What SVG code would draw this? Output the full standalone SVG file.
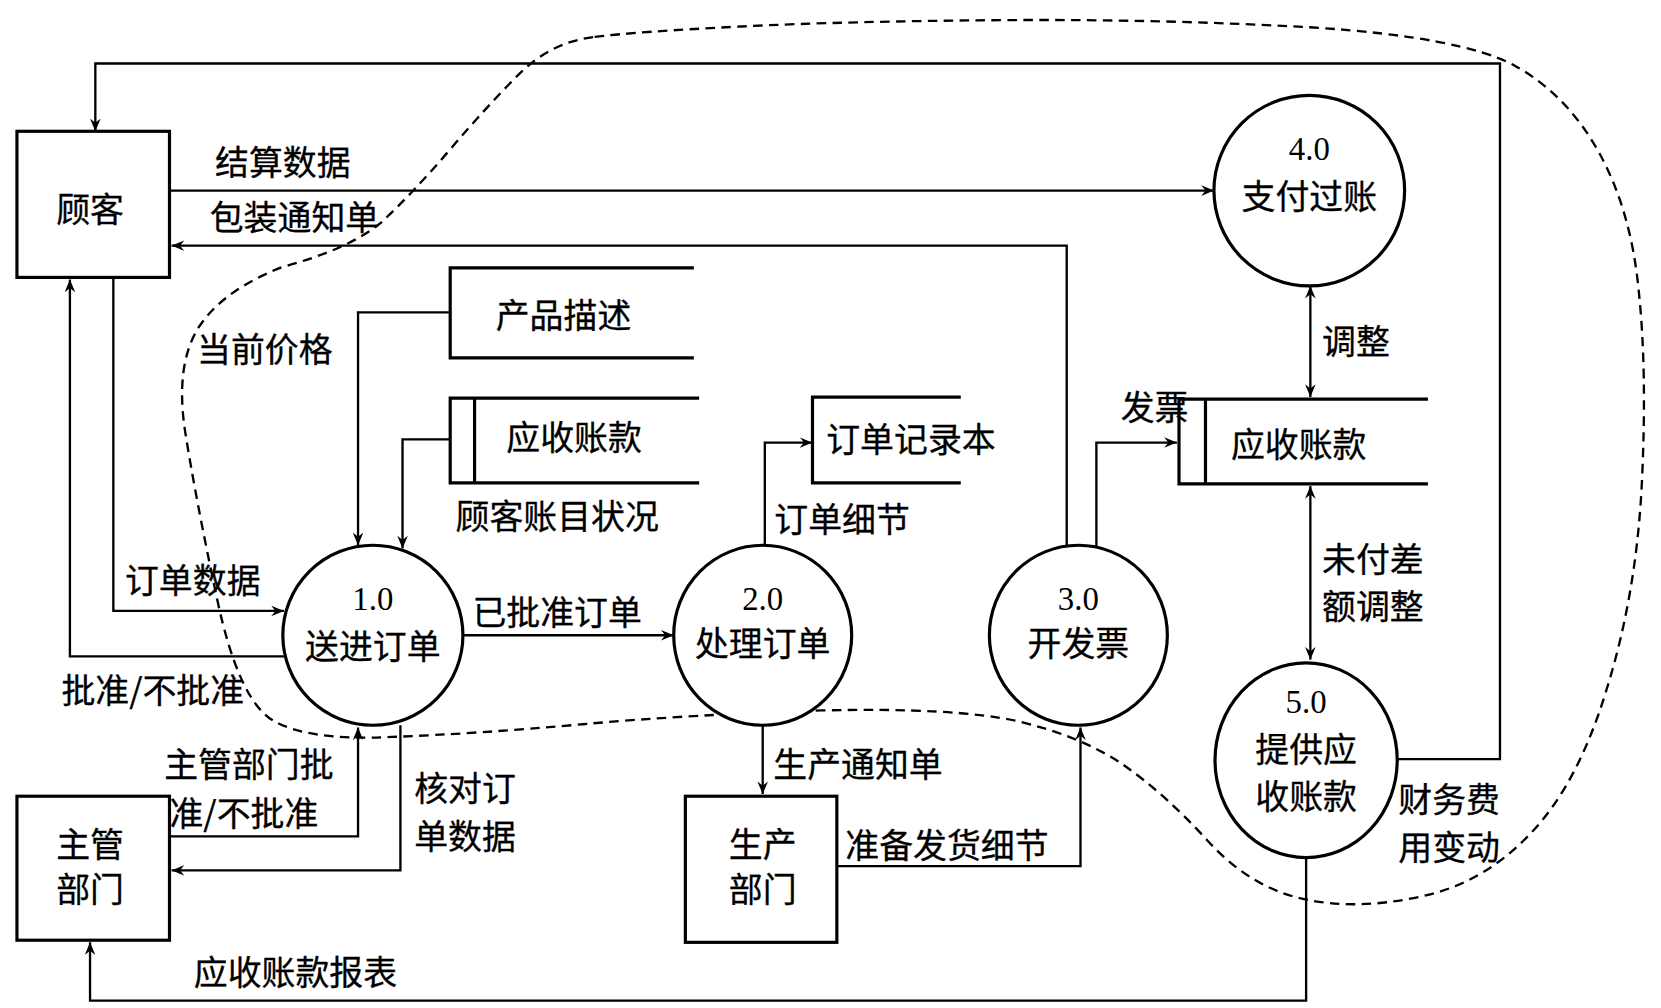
<svg xmlns="http://www.w3.org/2000/svg" width="1661" height="1008" viewBox="0 0 1661 1008">
<defs>
<marker id="a" viewBox="0 0 12 10" refX="12" refY="5" markerWidth="12" markerHeight="10" markerUnits="userSpaceOnUse" orient="auto-start-reverse"><path d="M0,0 L12,5 L0,10 L4,5 Z" fill="#000"/></marker>
</defs>
<style>
text{font-family:"Noto Sans CJK SC","Liberation Serif",serif;font-size:32px;fill:#000;stroke:#000;stroke-width:0.3}
.n{font-family:"Liberation Serif",serif;font-size:31px;stroke-width:0}
.m{text-anchor:middle}
.b{fill:#fff;stroke:#000;stroke-width:3}
.s{fill:none;stroke:#000;stroke-width:3}
.c{fill:none;stroke:#000;stroke-width:2.2}
.c path{marker-end:url(#a)}
.d{marker-start:url(#a)}
</style>
<rect width="1661" height="1008" fill="#fff"/>
<g transform="scale(1.0593,1.0588)">
<path d="M 560,35 Q 520,40 490,70 Q 460,100 425,141 Q 390,182 360,210 Q 330,235 267,252 Q 210,274 187,310 Q 165,346 175,409 Q 185,472 205,566 Q 225,660 257,680 Q 290,700 370,696 Q 450,693 550,684 Q 650,675 775,671 Q 900,668 960,681 Q 1020,695 1060,722 Q 1100,750 1140,794 Q 1180,838 1230,849 Q 1280,860 1340,847 Q 1400,835 1445,787 Q 1490,740 1517,650 Q 1545,560 1550,455 Q 1555,350 1547,275 Q 1540,200 1510,145 Q 1480,90 1430,62 Q 1380,35 1240,26 Q 1100,18 950,19 Q 800,20 700,25 Q 600,30 560,35 Z" fill="none" stroke="#000" stroke-width="2.2" stroke-dasharray="9,6"/>
<g id="connectors" class="c">
<path d="M1318,717 H1416 V60 H90 V124"/>
<path d="M160,180 H1146"/>
<path d="M1007,515 V232 H162"/>
<path d="M107,262 V577 H268"/>
<path d="M268,620 H66 V264"/>
<path d="M425,295 H338 V515"/>
<path d="M425,415 H380 V518"/>
<path d="M438,600 H636"/>
<path d="M722,515 V418 H767"/>
<path d="M720,685 V750"/>
<path d="M790,818 H1020 V687"/>
<path d="M1035,517 V418 H1111"/>
<path class="d" d="M1237,270 V375"/>
<path class="d" d="M1237,459 V623"/>
<path d="M1233,810 V945 H85 V890"/>
<path d="M160,790 H338 V687"/>
<path d="M378,685 V822 H162"/>
</g>
<g id="customer"><rect class="b" x="16" y="124" width="144" height="138"/><text class="m" x="85" y="210">顾客</text></g>
<g id="p4"><ellipse class="b" cx="1236" cy="180" rx="90" ry="90"/><text class="n m" x="1236" y="151">4.0</text><text class="m" x="1236" y="197">支付过账</text></g>
<g id="d1"><path class="s" d="M655,253 H425 V338 H655"/><text x="468" y="310">产品描述</text></g>
<g id="d2"><path class="s" d="M660,376 H425 V456 H660 M448,376 V456"/><text x="478" y="425">应收账款</text></g>
<g id="d3"><path class="s" d="M907,375 H767 V456 H907"/><text x="780" y="427">订单记录本</text></g>
<g id="d4"><path class="s" d="M1348,377 H1113 V457 H1348 M1138,377 V457"/><text x="1162" y="432">应收账款</text></g>
<g id="p1"><ellipse class="b" cx="352" cy="600" rx="85" ry="85"/><text class="n m" x="352" y="576">1.0</text><text class="m" x="352" y="622">送进订单</text></g>
<g id="p2"><ellipse class="b" cx="720" cy="600" rx="84" ry="85"/><text class="n m" x="720" y="576">2.0</text><text class="m" x="720" y="620">处理订单</text></g>
<g id="p3"><ellipse class="b" cx="1018" cy="600" rx="84" ry="85"/><text class="n m" x="1018" y="576">3.0</text><text class="m" x="1018" y="620">开发票</text></g>
<g id="p5"><ellipse class="b" cx="1233" cy="718" rx="86" ry="92"/><text class="n m" x="1233" y="673">5.0</text><text class="m" x="1233" y="720">提供应</text><text class="m" x="1233" y="764">收账款</text></g>
<g id="mgr"><rect class="b" x="16" y="752" width="144" height="136"/><text class="m" x="85" y="809">主管</text><text class="m" x="85" y="852">部门</text></g>
<g id="prod"><rect class="b" x="647" y="752" width="143" height="138"/><text class="m" x="720" y="809">生产</text><text class="m" x="720" y="852">部门</text></g>
<g id="labels">
<text x="203" y="165">结算数据</text>
<text x="198" y="217">包装通知单</text>
<text x="186" y="342">当前价格</text>
<text x="430" y="500">顾客账目状况</text>
<text x="731" y="502">订单细节</text>
<text x="1058" y="397">发票</text>
<text x="1248" y="334">调整</text>
<text x="1248" y="540">未付差</text>
<text x="1248" y="585">额调整</text>
<text x="118" y="560">订单数据</text>
<text x="446" y="590">已批准订单</text>
<text x="58" y="664">批准/不批准</text>
<text x="155" y="734">主管部门批</text>
<text x="160" y="780">准/不批准</text>
<text x="391" y="757">核对订</text>
<text x="391" y="802">单数据</text>
<text x="730" y="734">生产通知单</text>
<text x="798" y="810">准备发货细节</text>
<text x="1320" y="767">财务费</text>
<text x="1320" y="812">用变动</text>
<text x="183" y="930">应收账款报表</text>
</g>
</g>
</svg>
